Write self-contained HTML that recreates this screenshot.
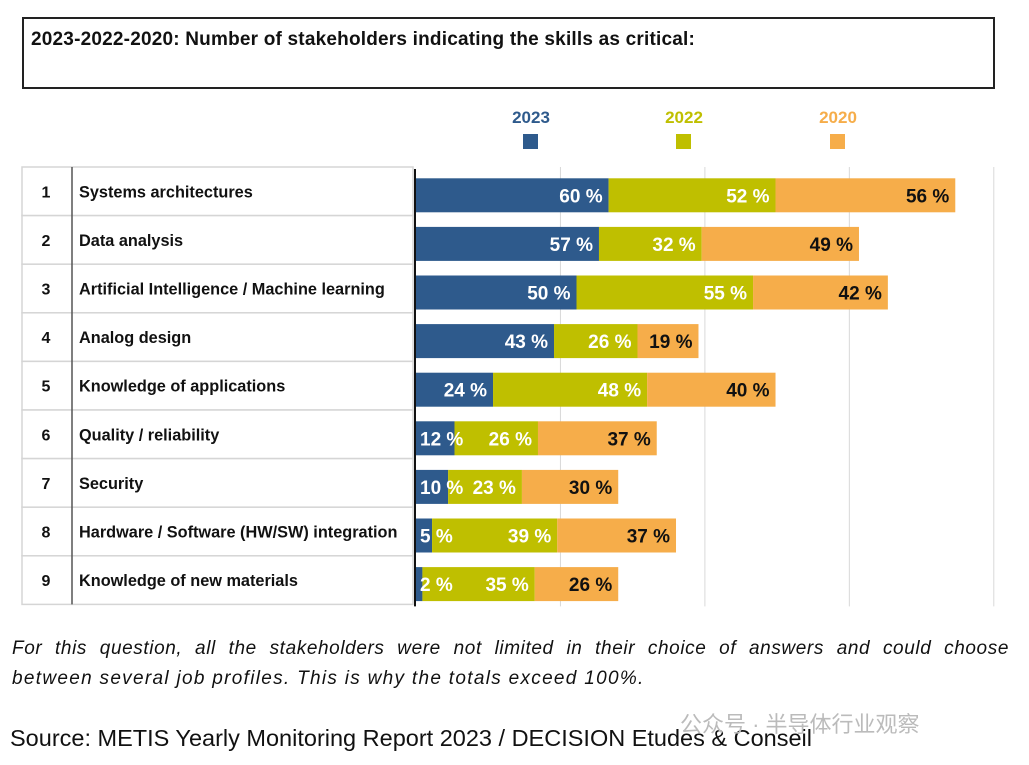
<!DOCTYPE html>
<html><head><meta charset="utf-8"><style>
body{margin:0;background:#fff;width:1029px;height:765px;overflow:hidden;font-family:"Liberation Sans",sans-serif;position:relative}
.t{position:absolute}
.fn{font-style:italic;font-size:19px;letter-spacing:1.3px;line-height:30px;color:#111;white-space:nowrap}
</style></head><body>
<div class="t" style="left:22px;top:17px;width:969px;height:68px;border:2px solid #222;"></div>
<div class="t" style="left:31px;top:29px;font-weight:bold;font-size:19px;letter-spacing:0.2px;color:#111">2023-2022-2020: Number of stakeholders indicating the skills as critical:</div>
<svg id="chart" class="t" style="left:0;top:0" width="1029" height="620"></svg>
<div class="t fn" style="left:12px;top:634px;width:997px;text-align:justify;text-align-last:justify;white-space:normal;letter-spacing:0.6px">For this question, all the stakeholders were not limited in their choice of answers and could choose</div>
<div class="t fn" style="left:12px;top:664px;">between several job profiles. This is why the totals exceed 100%.</div>
<div class="t" style="left:10px;top:725px;font-size:23.5px;color:#111">Source: METIS Yearly Monitoring Report 2023 / DECISION Etudes &amp; Conseil</div>
<div class="t" style="left:680px;top:707px;font-size:22px;color:#bbb;font-family:'Liberation Sans','Noto Sans CJK SC',sans-serif">公众号 · 半导体行业观察</div>
<script>
const categories=["Systems architectures","Data analysis","Artificial Intelligence / Machine learning","Analog design","Knowledge of applications","Quality / reliability","Security","Hardware / Software (HW/SW) integration","Knowledge of new materials"];
const v2023=[60,57,50,43,24,12,10,5,2];
const v2022=[52,32,55,26,48,26,23,39,35];
const v2020=[56,49,42,19,40,37,30,37,26];
const seriesNames=["2023","2022","2020"];
const gridTicks=[45,90,135,180];
const NS="http://www.w3.org/2000/svg";
const svg=document.getElementById('chart');
const x0=416,ppu=3.21,rowTop=167,rowH=48.6;
const xs=v=>x0+v*ppu;
const colors=["#2e5a8c","#bfbf00","#f6ad4a"];
const txtCol=["#fff","#fff","#111"];
function mk(tag,attrs,parent){const e=document.createElementNS(NS,tag);for(const k in attrs)e.setAttribute(k,attrs[k]);(parent||svg).appendChild(e);return e;}
gridTicks.forEach(t=>{const l=mk('line',{x1:xs(t),x2:xs(t),y1:rowTop,y2:rowTop+rowH*9+2,stroke:'#d8d8d8','stroke-width':1});

});
const legX=[531,684,838];
seriesNames.forEach((s,i)=>{const t=mk('text',{x:legX[i],y:123,'text-anchor':'middle','font-size':17,'font-weight':'bold',fill:['#2e5a8c','#bfbf00','#f6ad4a'][i]});t.textContent=s;


const r=mk('rect',{x:legX[i]-8,y:134,width:15,height:15,fill:colors[i]});

});
categories.forEach((c,i)=>{const y=rowTop+i*rowH;
const r=mk('rect',{x:22,y:y,width:391,height:rowH,fill:'#fff',stroke:'#d5d5d5','stroke-width':1.5});


const n=mk('text',{x:46,y:y+rowH/2+6,'text-anchor':'middle','font-size':16,'font-weight':'bold',fill:'#111'});n.textContent=i+1;


const t=mk('text',{x:79,y:y+rowH/2+6,'font-size':16.3,'font-weight':'bold',fill:'#111'});t.textContent=c;


});
const dv=mk('line',{x1:72,x2:72,y1:rowTop,y2:rowTop+rowH*9,stroke:'#555','stroke-width':1.5});


categories.forEach((c,i)=>{const yc=rowTop+i*rowH+rowH/2+4;const vals=[v2023[i],v2022[i],v2020[i]];let acc=0;
vals.forEach((v,j)=>{const a=xs(acc),b=xs(acc+v);
const r=mk('rect',{x:a,y:yc-17,width:b-a,height:34,fill:colors[j]});


acc+=v;});
acc=0;
vals.forEach((v,j)=>{const a=xs(acc),b=xs(acc+v);const small=(b-a)<45;
const t=mk('text',{x:small?a+4:b-6,y:yc+7,'text-anchor':small?'start':'end','font-size':19,'font-weight':'bold',fill:txtCol[j]});t.textContent=v+' %';


acc+=v;});
});
const ax=mk('line',{x1:415,x2:415,y1:rowTop+2,y2:rowTop+rowH*9+2,stroke:'#111','stroke-width':2});


</script>
</body></html>
